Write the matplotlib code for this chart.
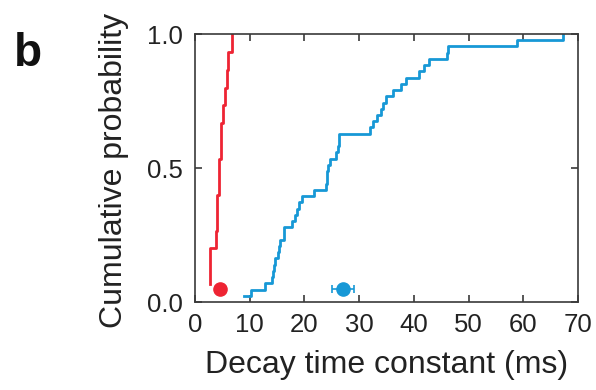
import numpy as np
import matplotlib
matplotlib.use("Agg")
import matplotlib.pyplot as plt

plt.rcParams['font.family'] = ['Liberation Sans', 'DejaVu Sans']

# decay time constants (ms)
red_vals = [2.7, 2.75, 2.8, 3.93, 3.97, 4.0, 4.36, 4.42, 4.73, 4.8,
            5.1, 5.5, 5.8, 6.1, 6.85]
blue_vals = [9.0, 10.2, 12.75, 14.0, 14.3, 14.5, 14.7, 15.1, 15.4, 15.6,
             16.3, 16.3, 17.8, 18.2, 18.6, 19.1, 19.5, 21.8, 23.9, 24.05,
             24.2, 24.4, 24.6, 25.8, 26.1, 26.4, 26.4, 32.0, 32.6, 33.3,
             34.0, 34.4, 34.9, 36.1, 37.6, 38.6, 41.0, 41.8, 42.7, 46.0,
             46.2, 58.8, 67.2]

# mean +/- sem shown as dots near the bottom
red_mean, red_err = 4.5, 0.3
blue_mean, blue_err = 27.1, 2.0
dot_y = 0.048

RED = '#EE2433'
BLUE = '#1798D6'

fig = plt.figure(figsize=(5.96, 3.90), dpi=100)
ax = fig.add_axes([0.327, 0.2256, 0.643, 0.6872])


def ecdf(vals):
    x = np.sort(np.asarray(vals, dtype=float))
    y = np.arange(1, len(x) + 1) / len(x)
    return x, y


xr, yr = ecdf(red_vals)
xb, yb = ecdf(blue_vals)
ax.plot(xr, yr, drawstyle='steps-post', color=RED, lw=2.0)
ax.plot(xb, yb, drawstyle='steps-post', color=BLUE, lw=2.0)

ax.errorbar([red_mean], [dot_y], xerr=[red_err], fmt='o', color=RED,
            ms=9.5, capsize=3, elinewidth=1.2, capthick=1.2)
ax.errorbar([blue_mean], [dot_y], xerr=[blue_err], fmt='o', color=BLUE,
            ms=9.5, capsize=3, elinewidth=1.2, capthick=1.2)

ax.set_xlim(0, 70)
ax.set_ylim(0, 1.0)
ax.set_xticks(np.arange(0, 71, 10))
ax.set_yticks([0, 0.5, 1.0])
ax.set_yticklabels(['0.0', '0.5', '1.0'])

for s in ax.spines.values():
    s.set_color('#3a3a3a')
    s.set_linewidth(1.2)
ax.tick_params(direction='in', top=True, right=True, length=5, width=1.2,
               color='#3a3a3a', labelsize=18.5, labelcolor='#222222')
ax.tick_params(axis='x', pad=8)
ax.tick_params(axis='y', pad=9)

ax.set_xlabel('Decay time constant (ms)', fontsize=23, color='#222222')
ax.set_ylabel('Cumulative probability', fontsize=23, color='#222222')
ax.xaxis.set_label_coords(0.5, -0.18)
ax.yaxis.set_label_coords(-0.172, 0.49)

fig.text(14 / 596, 1 - 66 / 390, 'b', fontsize=33, fontweight='bold',
         color='#111111', ha='left', va='baseline')

fig.savefig('out.png', dpi=100)
